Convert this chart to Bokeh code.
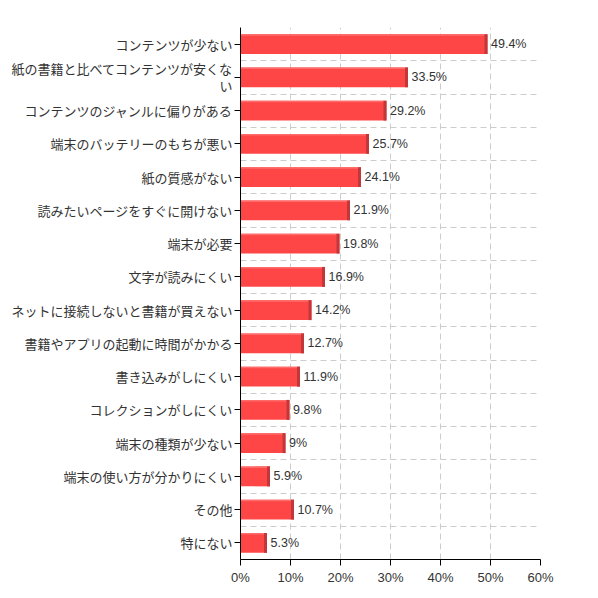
from bokeh.plotting import figure
from bokeh.models import FixedTicker, Range1d, ColumnDataSource, LabelSet
from bokeh.embed import file_html
from bokeh.resources import INLINE
from bokeh.core.properties import value

categories = [
    "コンテンツが少ない",
    "紙の書籍と比べてコンテンツが安くな\nい",
    "コンテンツのジャンルに偏りがある",
    "端末のバッテリーのもちが悪い",
    "紙の質感がない",
    "読みたいページをすぐに開けない",
    "端末が必要",
    "文字が読みにくい",
    "ネットに接続しないと書籍が買えない",
    "書籍やアプリの起動に時間がかかる",
    "書き込みがしにくい",
    "コレクションがしにくい",
    "端末の種類が少ない",
    "端末の使い方が分かりにくい",
    "その他",
    "特にない",
]
values = [49.4, 33.5, 29.2, 25.7, 24.1, 21.9, 19.8, 16.9, 14.2, 12.7, 11.9, 9.8, 9, 5.9, 10.7, 5.3]
x_ticks = [0, 10, 20, 30, 40, 50, 60]

n = len(categories)
ys = [n - 0.5 - i for i in range(n)]
half = 0.3
src = ColumnDataSource(dict(
    y=ys,
    v=values,
    top=[y + half for y in ys],
    bottom=[y - half for y in ys],
    hl=[y + half - 0.05 for y in ys],
    side_l=[v - 0.6 for v in values],
    lab_x=[v + 0.7 for v in values],
    label=[f"{v:g}%" for v in values],
    zero=[0] * n,
))

p = figure(width=590, height=590, output_backend="svg", toolbar_location=None,
           x_range=Range1d(0, 60), y_range=Range1d(0, n),
           min_border_left=240, min_border_right=50, min_border_top=27, min_border_bottom=31)
p.outline_line_color = None

# main bar faces
p.quad(left="zero", right="v", top="top", bottom="bottom", source=src,
       fill_color="#ff4646", line_color=None)
# top highlight
p.quad(left="zero", right="side_l", top="top", bottom="hl", source=src,
       fill_color="#ff6a6a", line_color=None)
# right dark face
p.quad(left="side_l", right="v", top="top", bottom="bottom", source=src,
       fill_color="#c2383a", line_color=None)

labels = LabelSet(x="lab_x", y="y", text="label", source=src,
                  text_font=value("Liberation Sans"), text_font_size="12.5px",
                  text_color="#333333", text_baseline="middle", text_align="left")
p.add_layout(labels)

p.xaxis.ticker = FixedTicker(ticks=x_ticks)
p.xaxis.major_label_overrides = {t: f"{t}%" for t in x_ticks}
p.xaxis.minor_tick_line_color = None
p.xaxis.major_tick_out = 6
p.xaxis.major_tick_in = 0
p.xaxis.axis_line_color = "black"
p.xaxis.major_tick_line_color = "black"
p.xaxis.major_label_text_font = "Liberation Sans"
p.xaxis.major_label_text_font_size = "13px"
p.xaxis.major_label_text_color = "#333333"
p.xaxis.major_label_standoff = 4

p.yaxis.ticker = FixedTicker(ticks=ys)
p.yaxis.major_label_overrides = {y: c for y, c in zip(ys, categories)}
p.yaxis.minor_tick_line_color = None
p.yaxis.major_tick_out = 6
p.yaxis.major_tick_in = 0
p.yaxis.axis_line_color = "black"
p.yaxis.major_tick_line_color = "black"
p.yaxis.major_label_text_font = "Noto Sans CJK JP"
p.yaxis.major_label_text_font_size = "13px"
p.yaxis.major_label_text_color = "#333333"
p.yaxis.major_label_text_line_height = 0.9
p.yaxis.major_label_standoff = 2

p.xgrid.ticker = FixedTicker(ticks=x_ticks)
p.ygrid.ticker = FixedTicker(ticks=list(range(0, n + 1)))
for g in (p.xgrid, p.ygrid):
    g.grid_line_color = "#cccccc"
    g.grid_line_dash = "6 4"
    g.grid_line_width = 1

open("out.html", "w").write(file_html(p, INLINE))
